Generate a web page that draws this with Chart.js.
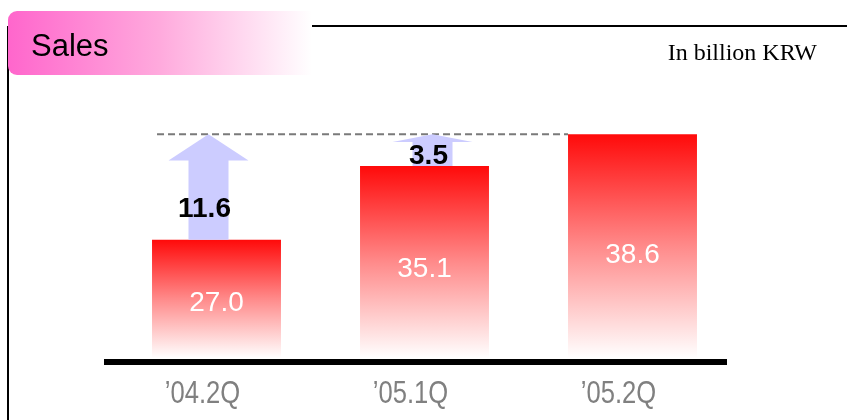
<!DOCTYPE html>
<html>
<head>
<meta charset="utf-8">
<script src="https://cdn.jsdelivr.net/npm/chart.js@4/dist/chart.umd.min.js"></script>
<style>
  html, body { margin: 0; padding: 0; background: #ffffff; }
  #wrap { width: 847px; height: 420px; }
</style>
</head>
<body>
<div id="wrap"><canvas id="c" width="847" height="420"></canvas></div>
<script>
// ---- data ----
const titleText = "Sales";
const unitText = "In billion KRW";
const categories = ["\u201904.2Q", "\u201905.1Q", "\u201905.2Q"];
const sales = [27.0, 35.1, 38.6];
const arrowFromIndex = [0, 1];
const arrowGain = [11.6, 3.5];

// ---- decorations ----
const framePlugin = {
  id: 'frame',
  beforeDraw(chart) {
    const c = chart.ctx;
    c.save();
    c.fillStyle = '#ffffff';
    c.fillRect(0, 0, chart.width, chart.height);
    // frame lines
    c.strokeStyle = '#000000';
    c.lineWidth = 2;
    c.beginPath();
    c.moveTo(8, 26); c.lineTo(chart.width, 26);
    c.moveTo(8, 26); c.lineTo(8, chart.height);
    c.stroke();
    // title box
    const g = c.createLinearGradient(8, 0, 312, 0);
    g.addColorStop(0, '#ff66cc');
    g.addColorStop(0.5, '#ffaadd');
    g.addColorStop(1, '#ffffff');
    c.fillStyle = g;
    c.beginPath();
    c.roundRect(8, 11, 304, 64, [9, 0, 0, 9]);
    c.fill();
    c.fillStyle = '#000000';
    c.font = '31px "Liberation Sans", Arial, sans-serif';
    c.textAlign = 'left';
    c.textBaseline = 'alphabetic';
    c.fillText(titleText, 31, 56);
    c.font = '24px "Liberation Serif", "Times New Roman", serif';
    c.textAlign = 'right';
    c.fillText(unitText, 817, 60);
    c.restore();
  },
  afterDatasetsDraw(chart) {
    const c = chart.ctx;
    const y = chart.scales.y;
    const area = chart.chartArea;
    const bars = chart.getDatasetMeta(0).data;
    c.save();
    // dashed reference line at the highest value
    const topVal = Math.max(...sales);
    const topIdx = sales.indexOf(topVal);
    const yTop = y.getPixelForValue(topVal);
    c.strokeStyle = '#7a7a7a';
    c.lineWidth = 2;
    c.setLineDash([7, 4]);
    c.beginPath();
    c.moveTo(bars[0].x - bars[0].width / 2 + 5, yTop);
    c.lineTo(bars[topIdx].x - bars[topIdx].width / 2, yTop);
    c.stroke();
    c.setLineDash([]);
    // arrows
    const shift = [-8, 8];
    arrowFromIndex.forEach((bi, k) => {
      const from = sales[bi];
      const to = from + arrowGain[k];
      const y0 = y.getPixelForValue(from);
      const y1 = y.getPixelForValue(to);
      const len = y0 - y1;
      const head = len * 0.25;
      const cx = bars[bi].x + shift[k];
      c.fillStyle = '#ccccff';
      c.beginPath();
      c.moveTo(cx - 20, y0);
      c.lineTo(cx - 20, y1 + head);
      c.lineTo(cx - 40, y1 + head);
      c.lineTo(cx, y1);
      c.lineTo(cx + 40, y1 + head);
      c.lineTo(cx + 20, y1 + head);
      c.lineTo(cx + 20, y0);
      c.closePath();
      c.fill();
      c.fillStyle = '#000000';
      c.font = 'bold 28px "Liberation Sans", Arial, sans-serif';
      c.textAlign = 'center';
      c.textBaseline = 'middle';
      c.fillText(arrowGain[k].toFixed(1), cx - 4, y1 + len * 0.71);
    });
    // value labels inside bars
    c.fillStyle = '#ffffff';
    c.font = '28px "Liberation Sans", Arial, sans-serif';
    c.textAlign = 'center';
    c.textBaseline = 'middle';
    bars.forEach((b, i) => {
      const t = y.getPixelForValue(sales[i]);
      c.fillText(sales[i].toFixed(1), b.x, t + (area.bottom - t) * 0.54);
    });
    // axis line
    c.strokeStyle = '#000000';
    c.lineWidth = 6;
    c.beginPath();
    c.moveTo(area.left - 8.5, area.bottom + 4);
    c.lineTo(area.right - 9.5, area.bottom + 4);
    c.stroke();
    // category labels (narrow face)
    const x = chart.scales.x;
    c.fillStyle = '#808080';
    c.font = '32px "Liberation Sans", Arial, sans-serif';
    c.textAlign = 'center';
    c.textBaseline = 'alphabetic';
    categories.forEach((lab, i) => {
      c.save();
      c.translate(x.getPixelForValue(i) - 14, area.bottom + 45);
      c.scale(0.8, 1);
      c.fillText(lab, 0, 0);
      c.restore();
    });
    c.restore();
  }
};

function barGradient(ctx) {
  const chart = ctx.chart;
  const area = chart.chartArea;
  if (!area || ctx.raw === undefined) return '#ff0000';
  const top = chart.scales.y.getPixelForValue(ctx.raw);
  const g = chart.ctx.createLinearGradient(0, top, 0, area.bottom);
  g.addColorStop(0, '#ff0a0a');
  g.addColorStop(0.5, '#ff8a8a');
  g.addColorStop(1, '#ffffff');
  return g;
}

new Chart(document.getElementById('c'), {
  type: 'bar',
  data: {
    labels: categories,
    datasets: [{
      data: sales,
      backgroundColor: barGradient,
      borderWidth: 0,
      categoryPercentage: 1,
      barPercentage: 0.62
    }]
  },
  options: {
    responsive: false,
    animation: false,
    devicePixelRatio: 1,
    layout: { padding: { left: 112.5, right: 110.5, top: 85, bottom: 62 } },
    plugins: { legend: { display: false }, tooltip: { enabled: false }, title: { display: false } },
    scales: {
      x: { display: false },
      y: { display: false, min: 14, max: 44 }
    }
  },
  plugins: [framePlugin]
});
</script>
</body>
</html>
